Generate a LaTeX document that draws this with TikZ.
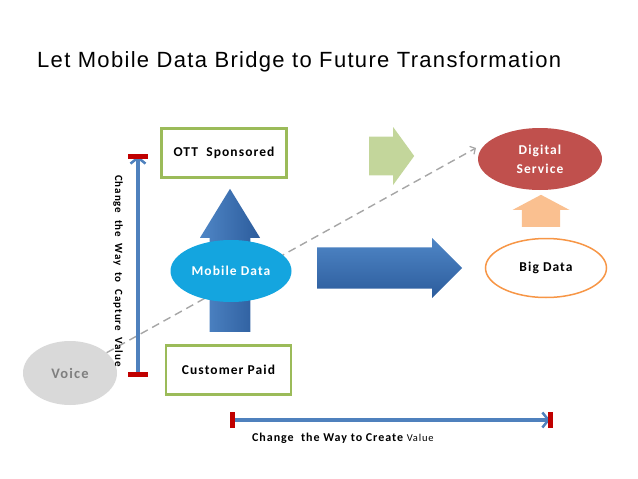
\documentclass[tikz,border=0pt]{standalone}
\usepackage{fontspec}
\setmainfont{Carlito}[LetterSpace=8]
\newfontfamily\titlefont{Liberation Sans}[LetterSpace=6]
\usepackage{xcolor}
\usetikzlibrary{shapes.geometric,shapes.arrows,arrows.meta}

\definecolor{boxgreen}{HTML}{9BBB59}
\definecolor{lightgreen}{HTML}{C3D69B}
\definecolor{peach}{HTML}{FAC090}
\definecolor{bigorange}{HTML}{F79646}
\definecolor{digitalred}{HTML}{C0504D}
\definecolor{mobilecyan}{HTML}{14A5DF}
\definecolor{voicegray}{HTML}{D9D9D9}
\definecolor{voicetext}{HTML}{7F7F7F}
\definecolor{lineblue}{HTML}{4F81BD}
\definecolor{bluelight}{HTML}{4F86C6}
\definecolor{bluedark}{HTML}{2C5C9C}
\definecolor{barred}{HTML}{C00000}
\definecolor{dashgray}{HTML}{A6A6A6}

\begin{document}
\begin{tikzpicture}[x=1pt, y=-1pt,
    box/.style={draw=boxgreen, line width=2.2pt, fill=white, minimum width=125pt, minimum height=49pt, font=\bfseries\fontsize{13.5}{15}\selectfont},
    bubble/.style={ellipse, inner sep=0pt, align=center, font=\bfseries\fontsize{13.5}{19}\selectfont},
    blockarrow/.style={single arrow, draw=none, inner xsep=0pt, single arrow head indent=0pt, anchor=tail},
    scaleline/.style={line width=3.5pt, draw=lineblue, -{Straight Barb[length=6pt, width=15pt, line width=2.5pt]}},
    redbar/.style={line width=5pt, draw=barred},
    label/.style={font=\bfseries\fontsize{11}{12}\selectfont}
]
    \useasboundingbox (0,0) rectangle (638,479);

    % Title
    \node[anchor=base west, inner sep=0pt, font=\titlefont\fontsize{22}{26}\selectfont] (title) at (37,67.5) {Let Mobile Data Bridge to Future Transformation};

    % Block arrows
    \node[blockarrow, rotate=90, inner ysep=15pt, minimum height=143pt, minimum width=60pt, single arrow tip angle=63, left color=bluelight, right color=bluedark] (uparrow) at (230,332) {};
    \node[blockarrow, inner ysep=15.5pt, minimum height=145pt, minimum width=60pt, single arrow tip angle=90, top color=bluelight, bottom color=bluedark] (rightarrow) at (317,268) {};
    \node[blockarrow, inner ysep=14pt, minimum height=45pt, minimum width=58pt, single arrow tip angle=108, fill=lightgreen] (greenarrow) at (369,156) {};
    \node[blockarrow, rotate=90, inner ysep=14.5pt, minimum height=32pt, minimum width=57pt, single arrow tip angle=124, fill=peach] (peacharrow) at (541,227) {};

    % Voice
    \node[bubble, fill=voicegray, text=voicetext, minimum width=94pt, minimum height=64pt, font=\bfseries\fontsize{14.5}{16}\selectfont] (voice) at (70,373) {Voice};

    % Dashed trend line
    \coordinate (trendend) at (476,148);
    \draw[dashgray, line width=1.4pt, dash pattern=on 8pt off 5pt, -{Straight Barb[length=4pt, width=9pt, line width=1.2pt]}] (voice) -- (trendend);

    % Boxes
    \node[box] (ott) at (224,153) {OTT\ \ Sponsored};
    \node[box] (customer) at (228.5,370) {Customer Paid};

    % Mobile Data
    \node[bubble, fill=mobilecyan, text=white, minimum width=121pt, minimum height=62pt] (mobile) at (231,271) {Mobile Data};

    % Digital Service
    \node[bubble, fill=digitalred, text=white, minimum width=124pt, minimum height=62pt] (digital) at (540,159) {Digital\\Service};

    % Big Data
    \node[bubble, draw=bigorange, line width=1.5pt, fill=white, minimum width=121pt, minimum height=59pt] (bigdata) at (546,268) {Big Data};

    % Capture value scale
    \coordinate (capbot) at (138,374);
    \coordinate (captop) at (138,156);
    \draw[scaleline] (capbot) -- (captop);
    \draw[redbar] ([xshift=-10pt]capbot) -- ([xshift=10pt]capbot);
    \draw[redbar] ([xshift=-10pt]captop) -- ([xshift=10pt]captop);
    \node[label, rotate=-90] (capture) at (118,271) {Change\ \ the\ \ Way\ \ to\ \ Capture\ \ Value};

    % Create value scale
    \coordinate (crleft) at (232,420);
    \coordinate (crright) at (550,420);
    \draw[scaleline] (crleft) -- (crright);
    \draw[redbar] ([yshift=-8pt]crleft) -- ([yshift=8pt]crleft);
    \draw[redbar] ([yshift=-8pt]crright) -- ([yshift=8pt]crright);
    \node[label, anchor=base west, inner sep=0pt, font=\bfseries\fontsize{12}{13}\selectfont] (create) at (252,441) {Change\ \ the Way to Create {\mdseries\fontsize{10.5}{11}\selectfont Value}};
\end{tikzpicture}
\end{document}
